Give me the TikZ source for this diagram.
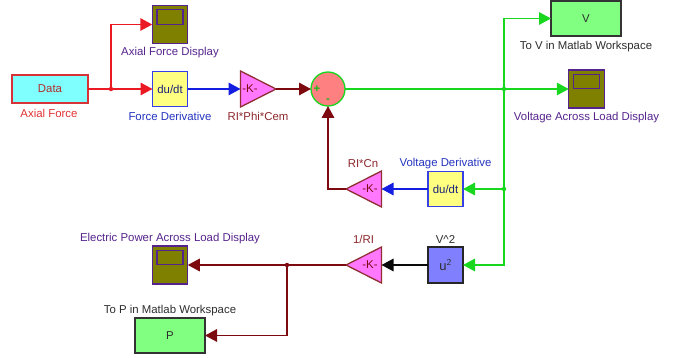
\documentclass[tikz,border=0pt]{standalone}
\usepackage{fontspec}
\setmainfont{Liberation Sans}
\usetikzlibrary{arrows.meta,shapes.geometric}
\definecolor{wred}{RGB}{235,25,35}
\definecolor{wblue}{RGB}{20,30,225}
\definecolor{wgreen}{RGB}{25,215,30}
\definecolor{wmar}{RGB}{125,10,15}
\definecolor{wblack}{RGB}{10,10,10}
\definecolor{lpurple}{RGB}{85,35,140}
\definecolor{lblue}{RGB}{35,50,190}
\definecolor{lmar}{RGB}{140,40,45}
\definecolor{lred}{RGB}{225,50,50}
\definecolor{lgrey}{RGB}{45,45,45}
\definecolor{scopefill}{RGB}{128,128,0}
\definecolor{fcyan}{RGB}{128,255,255}
\definecolor{fmag}{RGB}{255,120,255}
\definecolor{fyel}{RGB}{255,255,128}
\definecolor{fgrn}{RGB}{128,255,128}
\definecolor{fblue}{RGB}{128,128,255}
\definecolor{fred}{RGB}{255,128,128}
\definecolor{bred}{RGB}{215,50,55}
\tikzset{
  x=1pt,y=-1pt,
  every node/.style={font=\fontsize{11.4}{13}\selectfont},
  wire/.style={line width=1.6pt,-{Triangle[length=12pt,width=12.5pt]}},
  seg/.style={line width=1.6pt},
  blk/.style={draw,line width=1.3pt,inner sep=0pt,minimum width=#1,outer sep=0pt},
  deriv/.style={blk=35pt,minimum height=35.5pt,draw=wblue!85!white,fill=fyel,text=lblue!65!black},
  workspace/.style={blk=70pt,minimum height=35pt,draw=black!80,fill=fgrn,text=lgrey},
  scopebox/.style={blk=35.5pt,minimum height=38pt,draw=lpurple,fill=scopefill},
  scopescreen/.style={draw=lpurple,line width=1.3pt,inner sep=0pt,minimum width=26pt,minimum height=14.5pt},
  gain/.style={isosceles triangle,isosceles triangle apex angle=53,isosceles triangle stretches,
    minimum width=36pt,minimum height=35.5pt,inner sep=0pt,outer sep=0pt,
    draw=wmar!85!white,line width=1.3pt,fill=fmag,text=wmar},
  jdot/.style={circle,inner sep=0pt,minimum size=4.5pt,fill=#1},
  lab/.style={inner sep=0pt,text=#1,yshift=-1.5pt},
  sign/.style={inner sep=0pt,text=wgreen!85!black,font=\fontsize{11.4}{13}\selectfont\bfseries},
}
\begin{document}
\begin{tikzpicture}
\useasboundingbox (0,0) rectangle (679,358);
% blocks
\node[blk=76pt,minimum height=28pt,draw=bred,fill=fcyan,text=lred!80!black] (data) at (50,89) {Data};
\node[scopebox] (s1) at (170,24.5) {};
\node[scopescreen] (s1s) at (170,17) {};
\node[deriv] (d1) at (170,89) {du/dt};
\node[gain,anchor=apex] (g1) at (276,89) {\kern-3pt-K-};
\node[circle,draw=wgreen,line width=1.3pt,fill=fred,minimum size=34pt,inner sep=0pt,outer sep=0pt] (sum) at (328,89) {};
\node[sign] (plus) at (317,89) {+};
\node[sign] (minus) at (328,100.5) {-};
\node[workspace] (V) at (586,18.5) {V};
\node[scopebox] (s2) at (586.5,89) {};
\node[scopescreen] (s2s) at (586.5,81.5) {};
\node[deriv] (d2) at (445.5,189) {du/dt};
\node[gain,shape border rotate=180,anchor=apex] (g2) at (346,189) {-K-};
\node[blk=35pt,minimum height=36pt,draw=black!85,fill=fblue,text=lgrey] (u2) at (445.5,265) {\fontsize{13}{13}\selectfont u$^{\mathsf{2}}$};
\node[gain,shape border rotate=180,anchor=apex] (g3) at (346,265) {-K-};
\node[scopebox] (s3) at (170,265) {};
\node[scopescreen] (s3s) at (170,257.5) {};
\node[workspace] (P) at (170,335.5) {P};
% junction points
\coordinate (j1) at (111,89);
\coordinate (j2) at (504,89);
\coordinate (j3) at (504,189);
\coordinate (j4) at (287,265);
% wires
\draw[seg,draw=wred] (data) -- (j1);
\draw[wire,draw=wred] (j1) |- (s1);
\draw[wire,draw=wred] (j1) -- (d1);
\draw[wire,draw=wblue] (d1) -- (g1);
\draw[wire,draw=wmar] (g1) -- (sum);
\draw[seg,draw=wgreen] (sum) -- (j2);
\draw[wire,draw=wgreen] (j2) |- (V);
\draw[wire,draw=wgreen] (j2) -- (s2);
\draw[seg,draw=wgreen] (j2) -- (j3);
\draw[wire,draw=wgreen] (j3) -- (d2);
\draw[wire,draw=wgreen] (j3) |- (u2);
\draw[wire,draw=wblue] (d2) -- (g2);
\draw[wire,draw=wmar] (g2.apex) -| (sum);
\draw[wire,draw=wblack] (u2) -- (g3);
\draw[seg,draw=wmar] (g3.apex) -- (j4);
\draw[wire,draw=wmar] (j4) -- (s3);
\draw[wire,draw=wmar] (j4) |- (P);
% junction dots
\node[jdot=wred] (d-j1) at (j1) {};
\node[jdot=wgreen] (d-j2) at (j2) {};
\node[jdot=wgreen] (d-j3) at (j3) {};
\node[jdot=wmar] (d-j4) at (j4) {};
% labels
\node[lab=lred] (l1) at (49,111.5) {Axial Force};
\node[lab=lpurple] (l2) at (170,51.5) {Axial Force Display};
\node[lab=lblue] (l3) at (170,115) {Force Derivative};
\node[lab=lmar] (l4) at (258,115) {RI*Phi*Cem};
\node[lab=lgrey] (l5) at (586,45) {To V in Matlab Workspace};
\node[lab=lpurple] (l6) at (586.5,116) {Voltage Across Load Display};
\node[lab=lmar] (l7) at (363,162) {RI*Cn};
\node[lab=lblue] (l8) at (445.5,162) {Voltage Derivative};
\node[lab=lmar] (l9) at (363.5,238) {1/RI};
\node[lab=lgrey] (l10) at (445.5,238) {V\textasciicircum 2};
\node[lab=lpurple] (l11) at (170,237) {Electric Power Across Load Display};
\node[lab=lgrey] (l12) at (170,309) {To P in Matlab Workspace};
\end{tikzpicture}
\end{document}
